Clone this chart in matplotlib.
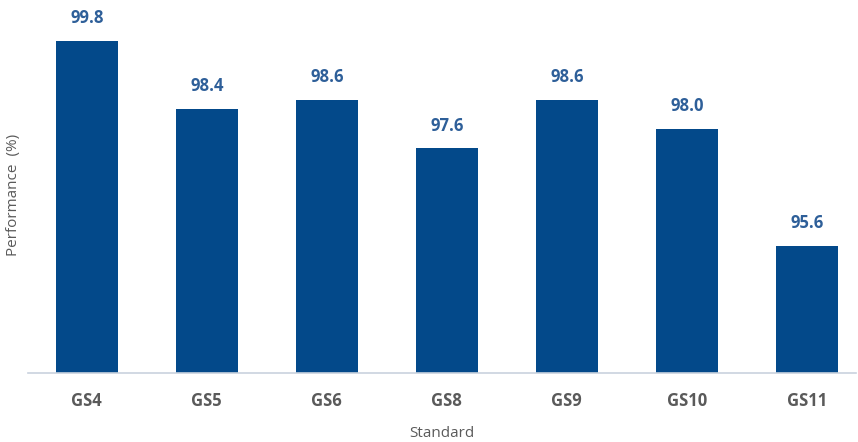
import matplotlib.pyplot as plt

standards = ['GS4', 'GS5', 'GS6', 'GS8', 'GS9', 'GS10', 'GS11']
performance = [99.8, 98.4, 98.6, 97.6, 98.6, 98.0, 95.6]

bar_color = '#03498A'
label_color = '#2E5F99'
text_gray = '#5A5A5A'

plt.rcParams['font.family'] = ['Open Sans', 'DejaVu Sans']

fig = plt.figure(figsize=(8.58, 4.42), dpi=100)
ax = fig.add_axes([28 / 858, 69 / 442, 828 / 858, 373 / 442])

x = range(len(standards))
bars = ax.bar(x, performance, width=0.52, color=bar_color, zorder=2)

for rect, val in zip(bars, performance):
    ax.annotate(f'{val:.1f}', (rect.get_x() + rect.get_width() / 2, val),
                xytext=(0, 10), textcoords='offset points',
                ha='center', va='bottom', fontsize=12, fontweight='bold',
                color=label_color)

ax.set_xlim(-0.49, 6.41)
ax.set_ylim(93.0, 100.64)

ax.set_xticks(list(x))
ax.set_xticklabels(standards, fontsize=12, fontweight='bold', color=text_gray)
ax.tick_params(axis='x', length=0, pad=14)
ax.set_yticks([])

for side in ['top', 'right', 'left']:
    ax.spines[side].set_visible(False)
ax.spines['bottom'].set_color('#C9D2DE')
ax.spines['bottom'].set_linewidth(1.2)

ax.set_xlabel('Standard', fontsize=11, color=text_gray, labelpad=11)
fig.text(14 / 858, 1 - 195 / 442, 'Performance  (%)', rotation=90,
         ha='center', va='center', fontsize=11, color=text_gray)

fig.savefig('out.png', dpi=100)
